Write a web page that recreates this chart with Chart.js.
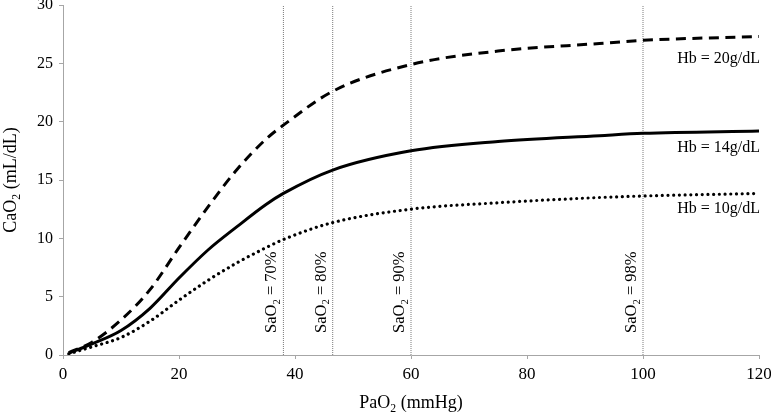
<!DOCTYPE html>
<html>
<head>
<meta charset="utf-8">
<script src="https://cdn.jsdelivr.net/npm/chart.js@4.4.1/dist/chart.umd.min.js"></script>
<style>
  body { margin: 0; background: #fff; }
  canvas { display: block; }
</style>
</head>
<body>
<canvas id="chart" width="771" height="413"></canvas>
<script>
// PaO2 (mmHg) sample points
const pao2 = [1, 5, 10, 15, 20, 25, 30, 35, 38, 46.5, 60, 75, 92.5, 100, 120];
// CaO2 (mL/dL) for each haemoglobin level
const hb20 = [0.2, 1.1, 3.0, 5.6, 9.2, 12.7, 15.9, 18.5, 19.7, 22.6, 24.9, 26.05, 26.7, 26.97, 27.3];
const hb14 = [0.15, 0.95, 2.1, 4.0, 6.6, 9.0, 11.0, 12.9, 13.85, 15.85, 17.5, 18.3, 18.8, 19.0, 19.2];
const hb10 = [0.1, 0.7, 1.5, 2.9, 4.7, 6.4, 7.9, 9.2, 9.9, 11.35, 12.5, 13.05, 13.5, 13.63, 13.85];
const hbLabels = ['Hb = 20g/dL', 'Hb = 14g/dL', 'Hb = 10g/dL'];

// saturation reference lines
const satPao2 = [38, 46.5, 60, 100];
const satLabels = ['70%', '80%', '90%', '98%'];

const xTicks = [0, 20, 40, 60, 80, 100, 120];
const yTicks = [0, 5, 10, 15, 20, 25, 30];

const FONT = '"Liberation Serif", "Times New Roman", serif';

function toPoints(ys) {
    return pao2.map((x, i) => ({ x: x, y: ys[i] }));
}

const curveStyle = {
    pointRadius: 0,
    borderColor: '#000',
    fill: false,
    cubicInterpolationMode: 'monotone'
};

const datasets = [
    Object.assign({ label: hbLabels[0], data: toPoints(hb20), borderWidth: 3, borderDash: [10, 6.5] }, curveStyle),
    Object.assign({ label: hbLabels[1], data: toPoints(hb14), borderWidth: 3 }, curveStyle),
    Object.assign({ label: hbLabels[2], data: toPoints(hb10), borderWidth: 3.2, borderDash: [0.01, 5.7], borderCapStyle: 'round' }, curveStyle)
];

satPao2.forEach((x, i) => {
    datasets.push({
        label: 'SaO2 ' + satLabels[i],
        data: [{ x: x, y: yTicks[0] }, { x: x, y: yTicks[yTicks.length - 1] }],
        borderColor: '#7a7a7a',
        borderWidth: 1,
        borderDash: [1, 1],
        pointRadius: 0
    });
});

// draws text pieces, some as subscripts, starting at the origin
function drawPieces(ctx, pieces, size, draw) {
    let w = 0;
    pieces.forEach(p => {
        const sub = p[1];
        ctx.font = (sub ? size * 0.65 : size) + 'px ' + FONT;
        if (draw) ctx.fillText(p[0], w, sub ? size * 0.22 : 0);
        w += ctx.measureText(p[0]).width;
    });
    return w;
}

const textPlugin = {
    id: 'texts',
    afterDatasetsDraw(chart) {
        const ctx = chart.ctx;
        const xs = chart.scales.x;
        const area = chart.chartArea;
        ctx.save();
        ctx.fillStyle = '#000';
        ctx.textBaseline = 'alphabetic';
        ctx.textAlign = 'left';

        // SaO2 labels, rotated next to each reference line
        satPao2.forEach((x, i) => {
            const px = xs.getPixelForValue(x);
            ctx.save();
            ctx.translate(px - 7, area.bottom - 22);
            ctx.rotate(-Math.PI / 2);
            drawPieces(ctx, [['SaO', false], ['2', true], [' = ' + satLabels[i], false]], 16.5, true);
            ctx.restore();
        });

        // curve labels at the right edge
        const hbY = [62.7, 151.7, 213];
        ctx.font = '16px ' + FONT;
        ctx.textAlign = 'right';
        hbLabels.forEach((t, i) => ctx.fillText(t, area.right + 1, hbY[i]));
        ctx.textAlign = 'left';

        // x axis title
        const xt = [['PaO', false], ['2', true], [' (mmHg)', false]];
        const xw = drawPieces(ctx, xt, 18, false);
        ctx.save();
        ctx.translate((area.left + area.right) / 2 - xw / 2, 408);
        drawPieces(ctx, xt, 18, true);
        ctx.restore();

        // y axis title
        const yt = [['CaO', false], ['2', true], [' (mL/dL)', false]];
        const yw = drawPieces(ctx, yt, 18, false);
        ctx.save();
        ctx.translate(16, (area.top + area.bottom) / 2 + yw / 2);
        ctx.rotate(-Math.PI / 2);
        drawPieces(ctx, yt, 18, true);
        ctx.restore();

        ctx.restore();
    }
};

new Chart(document.getElementById('chart'), {
    type: 'line',
    data: { datasets: datasets },
    options: {
        responsive: false,
        animation: false,
        devicePixelRatio: 1,
        layout: { padding: { top: 5, right: 12, left: 0, bottom: 0 } },
        plugins: { legend: { display: false }, tooltip: { enabled: false } },
        scales: {
            x: {
                type: 'linear',
                min: xTicks[0],
                max: xTicks[xTicks.length - 1],
                ticks: { stepSize: 20, color: '#000', padding: 5, maxRotation: 0, font: { family: FONT, size: 17 } },
                grid: { drawOnChartArea: false, tickLength: 4, color: '#a6a6a6' },
                border: { color: '#a6a6a6', width: 1 },
                afterFit(s) { s.height = 58; s.paddingLeft = 0; s.paddingRight = 0; }
            },
            y: {
                min: yTicks[0],
                max: yTicks[yTicks.length - 1],
                ticks: { stepSize: 5, color: '#000', padding: 6, font: { family: FONT, size: 16 } },
                grid: { drawOnChartArea: false, tickLength: 4, color: '#a6a6a6' },
                border: { color: '#a6a6a6', width: 1 },
                afterFit(s) { s.width = 63; s.paddingTop = 0; s.paddingBottom = 0; }
            }
        }
    },
    plugins: [textPlugin]
});
</script>
</body>
</html>
